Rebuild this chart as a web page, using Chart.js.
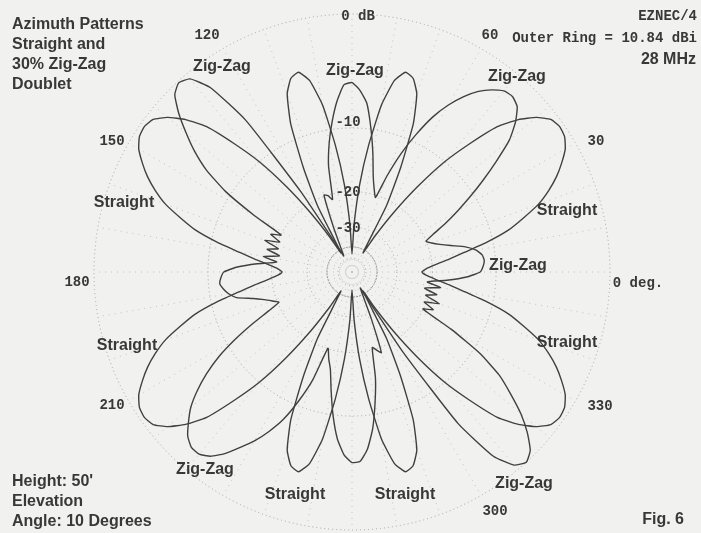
<!DOCTYPE html>
<html>
<head>
<meta charset="utf-8">
<script src="https://cdn.jsdelivr.net/npm/chart.js@4.4.0/dist/chart.umd.min.js"></script>
<style>
  html, body { margin: 0; padding: 0; background: #f1f1ef; }
  #wrap { position: relative; width: 701px; height: 533px; }
</style>
</head>
<body>
<div id="wrap"><canvas id="c"></canvas></div>
<script>
// EZNEC azimuth table, 2.5 deg steps from 0 to 357.5
// values are dB below the outer ring (outer ring = 10.84 dBi)
var step = 2.5;

var straight = [
  -22.4, -21.4, -19.3, -16.6, -13.9, -10.7, -8.0, -6.2, -4.5, -3.3,
  -2.3, -1.5, -0.8, -0.4, -0.3, -0.5, -1.2, -2.3, -3.9, -6.8,
  -10.1, -15.1, -21.9, -31.1, -42.2, -21.4, -13.9, -8.2, -5.3, -4.1,
  -3.8, -4.7, -7.2, -12.0, -18.5, -28.9,
  -45.7,
  -28.9, -18.5, -12.0, -7.2, -4.7, -3.8, -4.1, -5.3, -8.2, -13.9,
  -21.4, -42.2, -31.1, -21.9, -15.1, -10.1, -6.8, -3.9, -2.3, -1.2,
  -0.5, -0.3, -0.4, -0.8, -1.5, -2.3, -3.3, -4.5, -6.2, -8.0,
  -10.7, -13.9, -16.6, -19.3, -21.4,
  -22.4,
  -21.4, -19.3, -16.6, -13.9, -10.7, -8.0, -6.2, -4.5, -3.3, -2.3,
  -1.5, -0.8, -0.4, -0.3, -0.5, -1.2, -2.3, -3.9, -6.8, -10.1,
  -15.1, -21.9, -31.1, -42.2, -21.4, -13.9, -8.2, -5.3, -4.1, -3.8,
  -4.7, -7.2, -12.0, -18.5, -28.9,
  -45.7,
  -28.9, -18.5, -12.0, -7.2, -4.7, -3.8, -4.1, -5.3, -8.2, -13.9,
  -21.4, -42.2, -31.1, -21.9, -15.1, -10.1, -6.8, -3.9, -2.3, -1.2,
  -0.5, -0.3, -0.4, -0.8, -1.5, -2.3, -3.3, -4.5, -6.2, -8.0,
  -10.7, -13.9, -16.6, -19.3, -21.4
];

var zigzag = [
  -12.0, -11.6, -11.4, -11.6, -12.3, -13.7, -15.9, -17.7, -19.1, -20.1,
  -18.1, -15.4, -12.9, -10.5, -8.2, -6.0, -3.9, -2.6, -1.7, -1.4,
  -1.5, -2.0, -2.7, -3.7, -5.0, -6.7, -9.1, -12.0, -15.9, -20.5,
  -18.9, -16.6, -13.1, -9.9, -7.2, -6.0, -5.3, -5.5, -7.0, -9.1,
  -11.6, -14.9, -21.2, -20.1, -19.7, -28.9, -40.1, -45.7, -35.8, -17.1,
  -5.7, -1.8, -0.4, -0.1, -0.5, -1.6, -3.0, -4.5, -6.4, -9.3,
  -14.3, -20.1, -18.1, -20.5, -17.5, -20.7, -18.5, -21.4, -18.1, -21.0,
  -17.1, -13.9, -12.0, -11.6, -11.4, -11.8, -12.4, -13.4, -15.9, -17.7,
  -19.1, -20.3, -17.7, -14.3, -11.1, -8.4, -6.4, -4.8, -3.5, -2.6,
  -1.8, -1.4, -1.4, -1.8, -2.6, -3.7, -4.8, -6.2, -7.9, -10.5,
  -13.9, -20.1, -18.1, -16.3, -13.1, -9.9, -7.4, -5.9, -5.2, -5.3,
  -6.4, -8.4, -11.4, -14.9, -20.5, -19.7, -18.9, -28.2, -40.1, -45.7,
  -35.8, -17.1, -5.7, -1.8, -0.4, 0.0, -0.4, -1.4, -2.7, -4.4,
  -6.2, -9.1, -13.9, -20.1, -18.1, -20.5, -17.5, -20.7, -18.5, -21.4,
  -18.1, -21.0, -17.1, -13.9
];

var ringDb = [0, -10, -20, -30, -40, -50];

// ARRL log scale: every 2 dB is 0.89 of the radius
function arrl(db) { return Math.pow(0.89, -db / 2); }

// radar goes clockwise from its start angle, the plot goes counter-clockwise
var azLabels = [];
var order = [];
for (var i = 0; i < straight.length; i++) {
  var k = (straight.length - i) % straight.length;
  order.push(k);
  azLabels.push(k * step);
}

var sans = '"Liberation Sans", Arial, sans-serif';
var mono = '"Liberation Mono", "Courier New", monospace';
var ink = '#383838';

var notes = [
  ['Azimuth Patterns', 12, 25, 'left', 'bold 16px ' + sans],
  ['Straight and', 12, 45, 'left', 'bold 16px ' + sans],
  ['30% Zig-Zag', 12, 65, 'left', 'bold 16px ' + sans],
  ['Doublet', 12, 85, 'left', 'bold 16px ' + sans],
  ['EZNEC/4', 697, 16, 'right', 'bold 14px ' + mono],
  ['Outer Ring = 10.84 dBi', 697, 38, 'right', 'bold 14px ' + mono],
  ['28 MHz', 696, 60, 'right', 'bold 16px ' + sans],
  ["Height: 50'", 12, 482, 'left', 'bold 16px ' + sans],
  ['Elevation', 12, 502, 'left', 'bold 16px ' + sans],
  ['Angle: 10 Degrees', 12, 522, 'left', 'bold 16px ' + sans],
  ['Fig. 6', 684, 520, 'right', 'bold 16px ' + sans]
];

var seriesNotes = [
  ['Zig-Zag', 222, 67], ['Zig-Zag', 355, 71], ['Zig-Zag', 517, 77],
  ['Straight', 124, 203], ['Straight', 567, 211], ['Zig-Zag', 518, 266],
  ['Straight', 127, 346], ['Straight', 567, 343], ['Zig-Zag', 205, 470],
  ['Zig-Zag', 524, 484], ['Straight', 295, 495], ['Straight', 405, 495]
];

var axisNotes = [
  ['0 dB', 358, 16], ['60', 490, 35], ['120', 207, 35], ['30', 596, 141],
  ['150', 112, 141], ['180', 77, 282], ['0 deg.', 638, 283], ['210', 112, 405],
  ['330', 600, 406], ['300', 495, 511], ['-10', 348, 122], ['-20', 348, 192],
  ['-30', 348, 228]
];

var textPlugin = {
  id: 'texts',
  afterDraw: function (chart) {
    var ctx = chart.ctx;
    ctx.save();
    ctx.fillStyle = ink;
    ctx.textBaseline = 'middle';
    notes.forEach(function (n) {
      ctx.font = n[4];
      ctx.textAlign = n[3];
      ctx.fillText(n[0], n[1], n[2]);
    });
    ctx.font = 'bold 16px ' + sans;
    ctx.textAlign = 'center';
    seriesNotes.forEach(function (n) { ctx.fillText(n[0], n[1], n[2]); });
    ctx.font = 'bold 14px ' + mono;
    axisNotes.forEach(function (n) { ctx.fillText(n[0], n[1], n[2]); });
    ctx.restore();
  }
};

var lineStyle = {
  borderColor: '#404040',
  borderWidth: 1.4,
  pointRadius: 0,
  fill: false,
  tension: 0.15
};

new Chart(document.getElementById('c'), {
  type: 'radar',
  data: {
    labels: azLabels,
    datasets: [
      Object.assign({ label: 'Straight', data: order.map(function (k) { return arrl(straight[k]); }) }, lineStyle),
      Object.assign({ label: 'Zig-Zag', data: order.map(function (k) { return arrl(zigzag[k]); }) }, lineStyle)
    ]
  },
  options: {
    responsive: true,
    maintainAspectRatio: false,
    animation: false,
    layout: { padding: { left: 4, right: 0, top: 14, bottom: 3 } },
    plugins: { legend: { display: false }, tooltip: { enabled: false } },
    scales: {
      r: {
        min: 0,
        max: 1,
        startAngle: 90,
        ticks: { display: false },
        pointLabels: { display: false },
        afterBuildTicks: function (axis) {
          axis.ticks = [{ value: 0 }].concat(ringDb.map(function (d) { return { value: arrl(d) }; }));
        },
        grid: {
          circular: true,
          color: function (c) { return c.index === 5 ? '#8a8a8a' : '#a2a2a2'; },
          lineWidth: 1
        },
        border: { dash: function (c) { return c.index === 5 ? [2, 1] : [1, 3]; } },
        angleLines: {
          color: '#c2c2c2',
          lineWidth: function (c) { return c.index % 4 === 0 ? 1 : 0; },
          borderDash: [1, 5]
        }
      }
    }
  },
  plugins: [textPlugin]
});
</script>
</body>
</html>
